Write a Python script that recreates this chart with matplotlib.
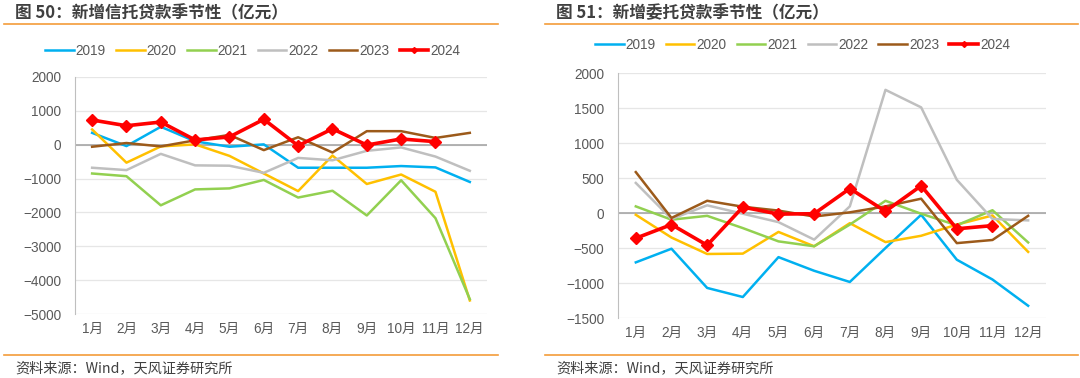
import matplotlib
matplotlib.use("Agg")
import matplotlib.pyplot as plt
from matplotlib.lines import Line2D

plt.rcParams['font.family'] = ['Liberation Sans', 'Noto Sans CJK SC', 'DejaVu Sans']
plt.rcParams['axes.unicode_minus'] = True

# -------------------------------------
# Data (亿元)
# -------------------------------------
months = ['1月', '2月', '3月', '4月', '5月', '6月', '7月', '8月', '9月', '10月', '11月', '12月']
years = ['2019', '2020', '2021', '2022', '2023', '2024']

# 图 50: 新增信托贷款
trust_2019 = [350, -40, 530, 100, -60, 10, -680, -680, -680, -630, -670, -1100]
trust_2020 = [450, -530, -50, 10, -330, -850, -1370, -320, -1160, -880, -1390, -4600]
trust_2021 = [-850, -930, -1790, -1320, -1290, -1040, -1560, -1360, -2090, -1050, -2170, -4560]
trust_2022 = [-680, -750, -270, -610, -620, -830, -390, -460, -180, -80, -350, -770]
trust_2023 = [-60, 50, -50, 130, 290, -160, 220, -230, 400, 400, 200, 350]
trust_2024 = [730, 560, 670, 140, 230, 750, -30, 470, -10, 170, 90]

# 图 51: 新增委托贷款
entr_2019 = [-705, -510, -1070, -1200, -630, -825, -985, -500, -25, -667, -950, -1325]
entr_2020 = [-25, -350, -585, -580, -270, -475, -145, -415, -325, -165, -35, -555]
entr_2021 = [95, -95, -40, -215, -405, -475, -165, 175, -10, -175, 40, -420]
entr_2022 = [430, -85, 110, -10, -130, -380, 95, 1760, 1510, 475, -85, -105]
entr_2023 = [585, -70, 175, 90, 35, -50, 10, 95, 205, -430, -385, -40]
entr_2024 = [-360, -165, -460, 85, -15, -10, 350, 25, 390, -225, -180]

colors = ['#00B0F0', '#FFC000', '#92D050', '#BFBFBF', '#9C5A1A', '#FF0000']
TEXT = '#595959'
ORANGE = '#F39C3A'
CJK = ['Noto Sans CJK SC', 'DejaVu Sans']


def draw_panel(fig, rect, series, ylim, yticks):
    ax = fig.add_axes(rect)
    x = list(range(1, 13))
    for i, (vals, c) in enumerate(zip(series, colors)):
        xs = x[:len(vals)]
        if i == 5:
            ax.plot(xs, vals, color=c, lw=2.6, marker='D', ms=6, zorder=5)
        else:
            ax.plot(xs, vals, color=c, lw=1.8, zorder=3)
    ax.axhline(0, color='#A6A6A6', lw=1.2, zorder=2)
    ax.set_xlim(0.5, 12.5)
    ax.set_ylim(*ylim)
    ax.set_yticks(yticks)
    ax.set_xticks(x)
    ax.set_xticklabels(months)
    ax.grid(axis='y', color='#E6E6E6', lw=0.9)
    ax.set_axisbelow(True)
    for s in ['top', 'right', 'bottom']:
        ax.spines[s].set_visible(False)
    ax.spines['left'].set_color('#BFBFBF')
    ax.tick_params(axis='both', length=0, labelsize=9.8, colors=TEXT, pad=6)
    ax.tick_params(axis='y', pad=10)
    return ax


fig = plt.figure(figsize=(10.8, 3.78), dpi=100)

draw_panel(fig, [0.0694, 0.1693, 0.3815, 0.627],
           [trust_2019, trust_2020, trust_2021, trust_2022, trust_2023, trust_2024],
           (-5000, 2000), range(-5000, 2001, 1000))
draw_panel(fig, [0.5722, 0.1587, 0.3963, 0.648],
           [entr_2019, entr_2020, entr_2021, entr_2022, entr_2023, entr_2024],
           (-1500, 2000), range(-1500, 2001, 500))

# legends
handles = []
for i, c in enumerate(colors):
    if i == 5:
        handles.append(Line2D([], [], color=c, lw=2.6, marker='D', ms=3))
    else:
        handles.append(Line2D([], [], color=c, lw=1.8))
for cx, cy in [(0.234, 0.866), (0.743, 0.882)]:
    fig.legend(handles, years, loc='center', bbox_to_anchor=(cx, cy), ncol=6,
               frameon=False, fontsize=9.8, handlelength=2.1, handletextpad=0.15,
               columnspacing=0.75, labelcolor=TEXT)

# titles, rules and source
for x0, x1, title in [(0.004, 0.461, '图 50：新增信托贷款季节性（亿元）'),
                      (0.505, 0.998, '图 51：新增委托贷款季节性（亿元）')]:
    fig.text(x0 + 0.010, 0.966, title, fontsize=12, fontweight='bold',
             color='#404040', va='center', ha='left', family=CJK)
    fig.add_artist(Line2D([x0, x1], [0.937, 0.937], color=ORANGE, lw=1.2))
    fig.add_artist(Line2D([x0, x1], [0.061, 0.061], color=ORANGE, lw=1.2))
    fig.text(x0 + 0.010, 0.027, '资料来源：Wind，天风证券研究所', fontsize=10.2,
             color='#404040', va='center', ha='left', family=CJK)

fig.savefig('out.png', dpi=100)
